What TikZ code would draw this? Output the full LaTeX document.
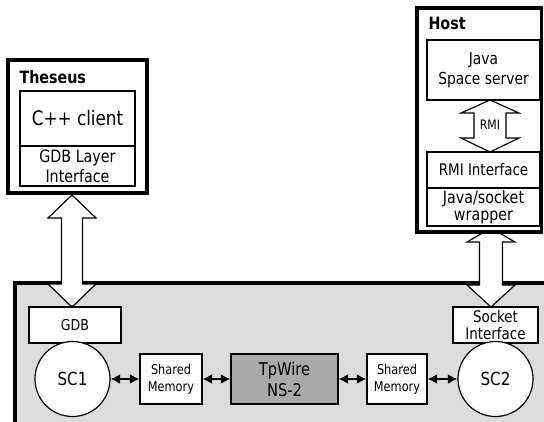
\documentclass[tikz,border=0pt]{standalone}
\usepackage{fontspec}
\setmainfont{DejaVu Sans}[FakeStretch=0.84]
\usetikzlibrary{arrows.meta}
\definecolor{panelgray}{RGB}{220,220,220}
\definecolor{simgray}{RGB}{170,170,170}
\tikzset{
  box/.style={draw, line width=1.2bp, fill=white, rectangle, inner sep=0pt, align=center},
  simbox/.style={box, fill=simgray},
  proc/.style={draw, line width=1.2bp, fill=white, circle, inner sep=0pt, minimum size=75bp},
  frame/.style={draw, line width=3.5bp, fill=white},
  blockarrow/.style={draw, line width=1.2bp, fill=white, line join=miter},
  link/.style={line width=1.8bp, {Latex[length=9.5bp,width=10bp]}-{Latex[length=9.5bp,width=10bp]}},
  fs/.style 2 args={font=\fontsize{#1bp}{#2bp}\selectfont},
  title/.style={anchor=west, font=\bfseries\fontsize{17bp}{20bp}\selectfont},
}
% vertical double block arrow: centre x, top tip y, top head base y,
% bottom head base y, bottom tip y, head half width, shaft half width
\newcommand\dblblock[7]{%
  \draw[blockarrow] (#1,#2) -- (#1+#6,#3) -- (#1+#7,#3) -- (#1+#7,#4) -- (#1+#6,#4)
    -- (#1,#5) -- (#1-#6,#4) -- (#1-#7,#4) -- (#1-#7,#3) -- (#1-#6,#3) -- cycle;}
\begin{document}
\begin{tikzpicture}[x=1bp,y=-1bp]
\useasboundingbox (0,0) rectangle (544,421);

% simulation panel
\fill[panelgray] (15,283) rectangle (548,425);
\draw[line width=3.5bp] (15,425) -- (15,283) -- (548,283);

% links between the client/host side and the panel
\dblblock{72}{195}{218}{284}{307}{24}{10.5}
\dblblock{491}{228}{242}{285}{307}{24}{11.5}

% Theseus
\draw[frame] (8,60) rectangle (147,193);
\node[title] (theseus) at (16,77) {Theseus};
\node[box, fs={20}{24}, minimum width=115bp, minimum height=55bp] (client) at (77.5,118.5) {C++ client};
\node[box, fs={17}{20}, minimum width=115bp, minimum height=40bp] (gdblayer) at (77.5,166) {GDB Layer\\Interface};

% Host
\draw[frame] (417,8) rectangle (541.5,232);
\node[title] (host) at (425,23) {Host};
\dblblock{490}{100}{113}{138}{152}{29}{16}
\node[box, fs={16.5}{20}, minimum width=113bp, minimum height=60bp] (space) at (483.5,70) {Java\\Space server};
\node[fs={13}{16}, inner sep=0pt] (rmi) at (490,125) {RMI};
\node[box, fs={16}{19}, minimum width=113bp, minimum height=36bp] (rmiif) at (483.5,170) {RMI Interface};
\node[box, fs={17}{17}, minimum width=113bp, minimum height=38bp] (wrapper) at (483.5,207) {Java/socket\\wrapper};

% panel contents
\node[box, fs={15}{18}, minimum width=92bp, minimum height=36bp] (gdb) at (75,325) {GDB};
\node[box, fs={16}{16.5}, minimum width=85bp, minimum height=36bp] (socket) at (495.5,325) {Socket\\Interface};
\node[proc, fs={18}{21}] (sc1) at (72.5,379) {SC1};
\node[proc, fs={18}{21}] (sc2) at (495.5,379) {SC2};
\node[box, fs={13.5}{17}, minimum width=62bp, minimum height=50bp] (shm1) at (171,379) {Shared\\Memory};
\node[simbox, fs={17.5}{21}, minimum width=107bp, minimum height=50bp] (tpwire) at (284.5,379) {TpWire\\NS-2};
\node[box, fs={13.5}{17}, minimum width=60bp, minimum height=50bp] (shm2) at (397,379) {Shared\\Memory};

\draw[link] (sc1) -- (shm1);
\draw[link] (shm1) -- (tpwire);
\draw[link] (tpwire) -- (shm2);
\draw[link] (shm2) -- (sc2);
\end{tikzpicture}
\end{document}
